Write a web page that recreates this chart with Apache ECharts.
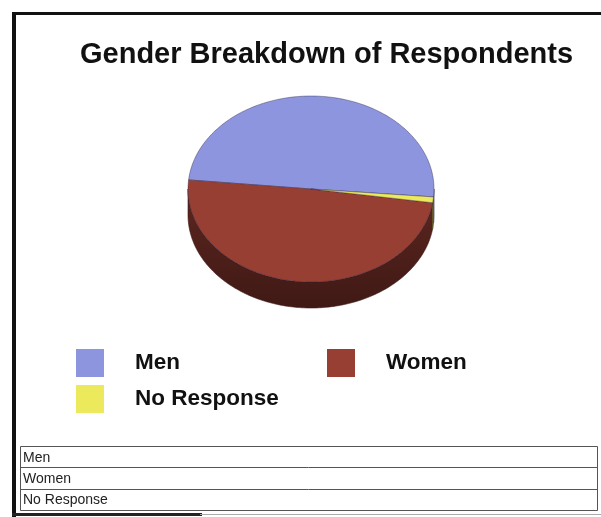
<!DOCTYPE html>
<html><head><meta charset="utf-8">
<script src="https://cdn.jsdelivr.net/npm/echarts@6/dist/echarts.min.js"></script>
<style>html,body{margin:0;padding:0;background:#fff}#c{width:601px;height:517px}</style>
</head><body><div id="c"></div>
<script>
const chartTitle = 'Gender Breakdown of Respondents';
const categories = ['Men', 'Women', 'No Response'];
const values = [49.8, 49.2, 1.0];
const topColors = ['#8d95df', '#983f33', '#ecea5c'];
const sideColors = ['#4a4f86', '#5e2620', '#8c8a30'];
const sideDark = ['#2e3158', '#3f1915', '#5a5920'];
const tableRows = categories;

const PIE = { cx: 311, cy: 189, rx: 123, ry: 93, depth: 26, startAngle: -4.9 };
const total = values.reduce((a, b) => a + b, 0);
let acc = 0;
const spans = values.map(v => {
  const a0 = PIE.startAngle + acc / total * 360;
  acc += v;
  return [a0, PIE.startAngle + acc / total * 360];
});

function renderSlice(params, api) {
  const i = params.seriesIndex;
  const a0 = api.value(0), a1 = api.value(1);
  const { cx, cy, rx, ry, depth } = PIE;
  const pt = (deg, dy) => { const r = deg * Math.PI / 180; return [cx + rx * Math.cos(r), cy - ry * Math.sin(r) + dy]; };
  const arc = (s, e, dy) => { const n = Math.max(2, Math.ceil(e - s)); const out = []; for (let k = 0; k <= n; k++) out.push(pt(s + (e - s) * k / n, dy)); return out; };
  const children = [];
  [-360, 0, 360].forEach(k => {
    const s = Math.max(a0, 180 + k), e = Math.min(a1, 360 + k);
    if (e > s) {
      const pts = arc(s, e, 0).concat(arc(s, e, depth).reverse());
      children.push({
        type: 'polygon', z2: 1, shape: { points: pts },
        style: {
          fill: { type: 'linear', x: 0, y: 0, x2: 0, y2: 1, colorStops: [{ offset: 0, color: sideColors[i] }, { offset: 1, color: sideDark[i] }] },
          stroke: sideDark[i], lineWidth: 0.6
        }
      });
    }
  });
  children.push({
    type: 'polygon', z2: 10, shape: { points: [[cx, cy]].concat(arc(a0, a1, 0)) },
    style: { fill: api.visual('color'), stroke: 'rgba(45,35,70,0.5)', lineWidth: 0.8 }
  });
  return { type: 'group', children };
}

// table + frame graphics
const graphics = [
  { type: 'rect', shape: { x: 12, y: 12, width: 589, height: 3 }, style: { fill: '#111' } },
  { type: 'rect', shape: { x: 12, y: 12, width: 4, height: 505 }, style: { fill: '#111' } },
  { type: 'rect', shape: { x: 12, y: 513, width: 190, height: 3 }, style: { fill: '#222' } },
  { type: 'line', shape: { x1: 200, y1: 514.5, x2: 601, y2: 514.5 }, style: { stroke: '#aaa', lineWidth: 1 } }
];
const T = { x: 20, y: 446, w: 577, h: 64 };
const rowH = T.h / tableRows.length;
graphics.push({ type: 'rect', shape: { x: T.x + 0.5, y: T.y + 0.5, width: T.w, height: T.h }, style: { fill: 'none', stroke: '#555', lineWidth: 1 } });
tableRows.forEach((name, r) => {
  if (r > 0) graphics.push({ type: 'line', shape: { x1: T.x, y1: Math.round(T.y + r * rowH) + 0.5, x2: T.x + T.w, y2: Math.round(T.y + r * rowH) + 0.5 }, style: { stroke: '#555', lineWidth: 1 } });
  graphics.push({ type: 'text', x: T.x + 3, y: T.y + (r + 0.5) * rowH + 1, style: { text: name, fill: '#222', font: '14px "Liberation Sans", Arial, sans-serif', verticalAlign: 'middle', align: 'left' } });
});

const legendText = { fontFamily: '"Liberation Sans", Arial, sans-serif', fontWeight: 'bold', fontSize: 22.5, color: '#111', padding: [0, 0, 0, 26] };
const chart = echarts.init(document.getElementById('c'), null, { renderer: 'canvas' });
chart.setOption({
  animation: false,
  backgroundColor: '#fff',
  title: {
    text: chartTitle, left: 80, top: 40, padding: 0,
    textStyle: { fontFamily: '"Liberation Sans", Arial, sans-serif', fontWeight: 'bold', fontSize: 29, color: '#111' }
  },
  legend: [
    { data: [categories[0], categories[1]], left: 76, top: 349, padding: 0, icon: 'rect', itemWidth: 28, itemHeight: 28, itemGap: 147, selectedMode: false, textStyle: legendText },
    { data: [categories[2]], left: 76, top: 385, padding: 0, icon: 'rect', itemWidth: 28, itemHeight: 28, selectedMode: false, textStyle: legendText }
  ],
  graphic: graphics,
  series: categories.map((name, i) => ({
    type: 'custom', name, coordinateSystem: 'none', renderItem: renderSlice,
    itemStyle: { color: topColors[i] }, data: [spans[i]], silent: true
  }))
});
</script></body></html>
